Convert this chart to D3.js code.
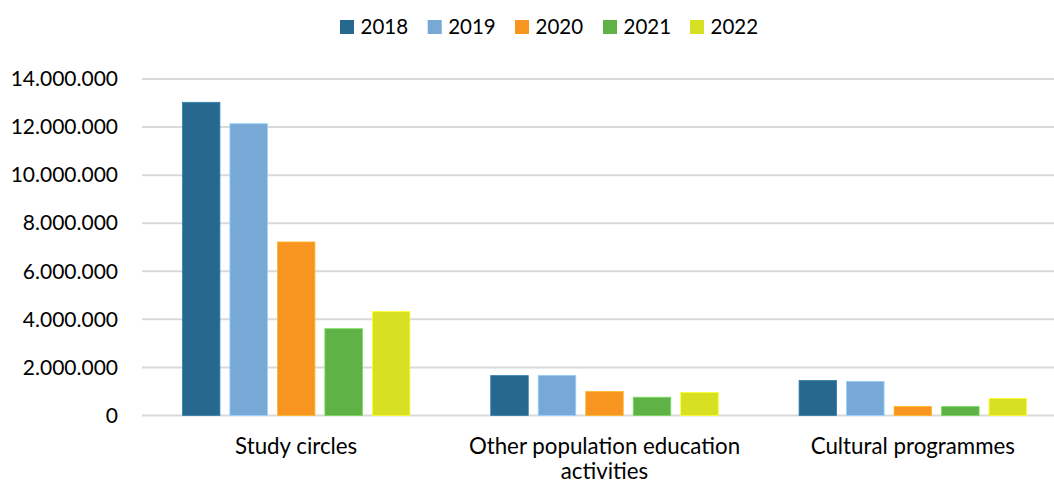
<!DOCTYPE html>
<html>
<head>
<meta charset="utf-8">
<script src="https://cdn.jsdelivr.net/npm/d3@7"></script>
<style>
  html, body { margin: 0; padding: 0; background: #fff; }
  svg { display: block; font-family: Lato, "Open Sans", sans-serif; }
</style>
</head>
<body>
<svg id="chart" width="1054" height="484"></svg>
<script>
// Participants per activity type and year
const categories = ["Study circles", "Other population education activities", "Cultural programmes"];
const years = ["2018", "2019", "2020", "2021", "2022"];
const values2018 = [13030000, 1660000, 1460000];
const values2019 = [12140000, 1670000, 1420000];
const values2020 = [7220000, 1000000, 380000];
const values2021 = [3610000, 760000, 370000];
const values2022 = [4330000, 960000, 710000];
const yTicks = [0, 2000000, 4000000, 6000000, 8000000, 10000000, 12000000, 14000000];
const colors = ["#27688f", "#78a9d6", "#f79520", "#5fb246", "#d7e022"];

const series = [values2018, values2019, values2020, values2021, values2022];

const svg = d3.select("#chart");
const W = 1054;

const plot = { left: 142, right: 1067, top: 79, bottom: 415.5 };

const x0 = d3.scaleBand().domain(categories).range([plot.left, plot.right]).padding(0);
const groupPad = 40.4;
const x1 = d3.scaleBand().domain(years)
  .range([groupPad, x0.bandwidth() - groupPad])
  .paddingInner(0.21).paddingOuter(0);
const y = d3.scaleLinear().domain([0, 14000000]).range([plot.bottom, plot.top]);

const locale = d3.formatLocale({ decimal: ",", thousands: ".", grouping: [3], currency: ["", ""] });
const fmt = locale.format(",.0f");

// Horizontal gridlines
svg.append("g")
  .selectAll("line")
  .data(yTicks)
  .join("line")
  .attr("x1", plot.left)
  .attr("x2", W)
  .attr("y1", d => y(d))
  .attr("y2", d => y(d))
  .attr("stroke", "#d9d9d9")
  .attr("stroke-width", 2);

// Y axis labels
const yAxis = d3.axisLeft(y).tickValues(yTicks).tickFormat(fmt).tickSize(0).tickPadding(0);
const yg = svg.append("g").attr("transform", `translate(118,0)`).call(yAxis);
yg.select(".domain").remove();
yg.selectAll("text")
  .attr("font-family", "Lato, sans-serif")
  .attr("font-size", 21)
  .attr("fill", "#000");

// Bars
const groups = svg.append("g")
  .selectAll("g")
  .data(categories)
  .join("g")
  .attr("transform", d => `translate(${x0(d)},0)`);

groups.selectAll("rect")
  .data((c, i) => years.map((yr, j) => ({ year: yr, value: series[j][i], color: colors[j] })))
  .join("rect")
  .attr("x", d => x1(d.year))
  .attr("width", x1.bandwidth())
  .attr("y", d => y(d.value))
  .attr("height", d => y(0) - y(d.value))
  .attr("fill", d => d.color)
  .attr("stroke", d => d3.color(d.color).brighter(0.6))
  .attr("stroke-width", 0.8);

// Category labels (wrapped)
const xAxis = d3.axisBottom(x0).tickSize(0).tickPadding(0);
const xg = svg.append("g").attr("transform", `translate(0,${plot.bottom})`).call(xAxis);
xg.select(".domain").remove();
const wrapLines = {
  "Study circles": ["Study circles"],
  "Other population education activities": ["Other population education", "activities"],
  "Cultural programmes": ["Cultural programmes"]
};
xg.selectAll("text")
  .attr("y", 0)
  .attr("dy", null)
  .attr("font-family", "Lato, sans-serif")
  .attr("font-size", 22.3)
  .attr("fill", "#000")
  .each(function(d) {
    const t = d3.select(this);
    t.text(null);
    wrapLines[d].forEach((line, k) => {
      t.append("tspan").attr("x", 0).attr("y", 38.5 + k * 24.5).text(line);
    });
  });

// Legend
const legendX = [340, 427.7, 515, 603, 690];
const legend = svg.append("g")
  .selectAll("g")
  .data(years)
  .join("g")
  .attr("transform", (d, i) => `translate(${legendX[i]},20)`);
legend.append("rect")
  .attr("width", 14).attr("height", 14)
  .attr("fill", (d, i) => colors[i]);
legend.append("text")
  .attr("x", 20.5).attr("y", 14)
  .attr("font-size", 20.5)
  .attr("fill", "#000")
  .text(d => d);
</script>
</body>
</html>
